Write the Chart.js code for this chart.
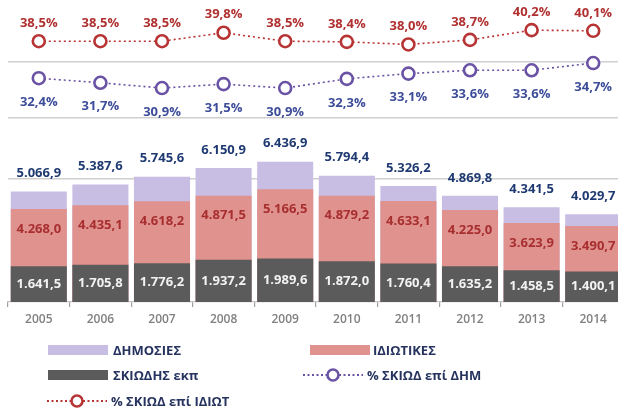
<!DOCTYPE html>
<html><head><meta charset="utf-8">
<script src="https://cdn.jsdelivr.net/npm/chart.js@4"></script>
<style>
html,body{margin:0;padding:0;background:#fff;overflow:hidden;width:618px;height:414px}
#wrap{position:relative;width:630px;height:414px}
canvas{position:absolute;left:0;top:0}
.lg{position:absolute;font:700 13px 'Open Sans',sans-serif;color:#26335f;white-space:nowrap;line-height:16px}
.sw{position:absolute;height:10px;width:60px}
.mk{position:absolute}
</style></head><body>
<div id="wrap"><canvas id="c" width="630" height="414"></canvas><div id="legend"></div></div>
<script>
const years = ['2005','2006','2007','2008','2009','2010','2011','2012','2013','2014'];
const publicSpend  = [5066.9,5387.6,5745.6,6150.9,6436.9,5794.4,5326.2,4869.8,4341.5,4029.7];
const privateSpend = [4268.0,4435.1,4618.2,4871.5,5166.5,4879.2,4633.1,4225.0,3623.9,3490.7];
const shadowEdu    = [1641.5,1705.8,1776.2,1937.2,1989.6,1872.0,1760.4,1635.2,1458.5,1400.1];
const pctOfPublic  = [32.4,31.7,30.9,31.5,30.9,32.3,33.1,33.6,33.6,34.7];
const pctOfPrivate = [38.5,38.5,38.5,39.8,38.5,38.4,38.0,38.7,40.2,40.1];
const seriesNames  = ['ΔΗΜΟΣΙΕΣ','ΙΔΙΩΤΙΚΕΣ','ΣΚΙΩΔΗΣ εκπ','% ΣΚΙΩΔ επί ΔΗΜ','% ΣΚΙΩΔ επί ΙΔΙΩΤ'];

const C = {pub:'#c8bde3', priv:'#e0928f', shadow:'#5b5b5b', linePub:'#6a52a4', linePriv:'#b83434'};

function fmt(v){const s=v.toFixed(1);let [i,d]=s.split('.');i=i.replace(/\B(?=(\d{3})+(?!\d))/g,'.');return i+','+d;}
function pct(v){return v.toFixed(1).replace('.',',')+'%';}

const labelPlugin = {
  id:'labels',
  afterDatasetsDraw(chart){
    const ctx=chart.ctx;
    chart.data.datasets.forEach((ds,i)=>{
      const L=ds.lbl; if(!L) return;
      const meta=chart.getDatasetMeta(i);
      ctx.save(); ctx.font=L.font; ctx.fillStyle=L.color; ctx.textAlign='center'; ctx.textBaseline='middle';
      meta.data.forEach((el,j)=>{
        let y;
        if(L.mode==='above') y=el.y-L.off;
        else if(L.mode==='below') y=el.y+L.off;
        else y=(el.y+el.base)/2;
        ctx.fillText(L.fmt(ds.data[j]), el.x, y);
      });
      ctx.restore();
    });
  }
};

const lineCommon = {type:'line', borderWidth:1.6, borderDash:[2,3], pointRadius:6, pointHoverRadius:6,
  pointBorderWidth:2.6, pointBackgroundColor:'#fff', tension:0, order:0, clip:false};
const barCommon = {type:'bar', yAxisID:'yBar', barPercentage:0.91, categoryPercentage:1.0, borderWidth:0};

const data = {
  labels: years,
  datasets: [
    {...barCommon, label:seriesNames[0], data:publicSpend, backgroundColor:C.pub, order:3,
      lbl:{mode:'above', off:18, font:"700 13px 'Open Sans'", color:'#1f3a72', fmt}},
    {...barCommon, label:seriesNames[1], data:privateSpend, backgroundColor:C.priv, order:2,
      lbl:{mode:'below', off:20, font:"700 13px 'Open Sans'", color:'#a82f2f', fmt}},
    {...barCommon, label:seriesNames[2], data:shadowEdu, backgroundColor:C.shadow, order:1,
      lbl:{mode:'center', font:"700 13px 'Open Sans'", color:'#f2f2f2', fmt}},
    {...lineCommon, label:seriesNames[3], data:pctOfPublic, yAxisID:'yP', borderColor:C.linePub, pointBorderColor:C.linePub,
      lbl:{mode:'below', off:24, font:"700 13px 'Open Sans'", color:'#3d4d9a', fmt:pct}},
    {...lineCommon, label:seriesNames[4], data:pctOfPrivate, yAxisID:'yR', borderColor:C.linePriv, pointBorderColor:C.linePriv,
      lbl:{mode:'above', off:18, font:"700 13px 'Open Sans'", color:'#b03030', fmt:pct}}
  ]
};

const panelAxis = (extra) => Object.assign({
  type:'linear', position:'left', stack:'panels', stacked:false,
  ticks:{display:false}, border:{display:false},
  grid:{drawTicks:false, color:'#cfcfcf', lineWidth:1.6}
}, extra);

new Chart(document.getElementById('c'), {
  data,
  options:{
    responsive:false, animation:false, devicePixelRatio:1,
    layout:{autoPadding:false, padding:{left:8, right:6, top:0, bottom:0}},
    plugins:{legend:{display:false}, tooltip:{enabled:false}},
    scales:{
      x:{type:'category', stacked:true, offset:true,
        grid:{offset:true, drawOnChartArea:false, drawTicks:true, tickLength:5, color:'#a0a0a0', lineWidth:1.2},
        border:{display:true, color:'#c4c4c4', width:1.2},
        ticks:{color:'#808080', font:{family:'Open Sans', size:12, weight:'600'}, padding:5},
        afterFit(s){ s.height = 112; }
      },
      // stacked panels: listed bottom-to-top
      yBar: panelAxis({stackWeight:184, min:0, max:8440,
        afterBuildTicks(s){ s.ticks=[{value:5650}]; }}),
      yP: panelAxis({stackWeight:56, min:26.35, max:34.86,
        afterBuildTicks(s){ s.ticks=[{value:s.min}]; }}),
      yR: panelAxis({stackWeight:62, min:35.3, max:44.84,
        afterBuildTicks(s){ s.ticks=[{value:s.min}]; }})
    }
  },
  plugins:[labelPlugin]
});

// HTML legend
const lg = document.getElementById('legend');
function sw(color,x,y){const d=document.createElement('div');d.className='sw';d.style.left=x+'px';d.style.top=y+'px';d.style.background=color;lg.appendChild(d);}
function mk(color,x,y){const d=document.createElement('div');d.className='mk';d.style.left=x+'px';d.style.top=y+'px';
  d.innerHTML='<svg width="60" height="16"><line x1="0" y1="8" x2="60" y2="8" stroke="'+color+'" stroke-width="2" stroke-dasharray="2,2.5"/><circle cx="30" cy="8" r="5.5" fill="#fff" stroke="'+color+'" stroke-width="2.6"/></svg>';lg.appendChild(d);}
function tx(t,x,yc){const d=document.createElement('div');d.className='lg';d.textContent=t;d.style.left=x+'px';d.style.top=(yc-8)+'px';lg.appendChild(d);}
sw(C.pub,48,345); tx(seriesNames[0],113,350);
sw(C.priv,310,345); tx(seriesNames[1],373,350);
sw(C.shadow,48,370); tx(seriesNames[2],113,375);
mk(C.linePub,303,367); tx(seriesNames[3],367,375);
mk(C.linePriv,47,393); tx(seriesNames[4],111,401);
</script>
</body></html>
